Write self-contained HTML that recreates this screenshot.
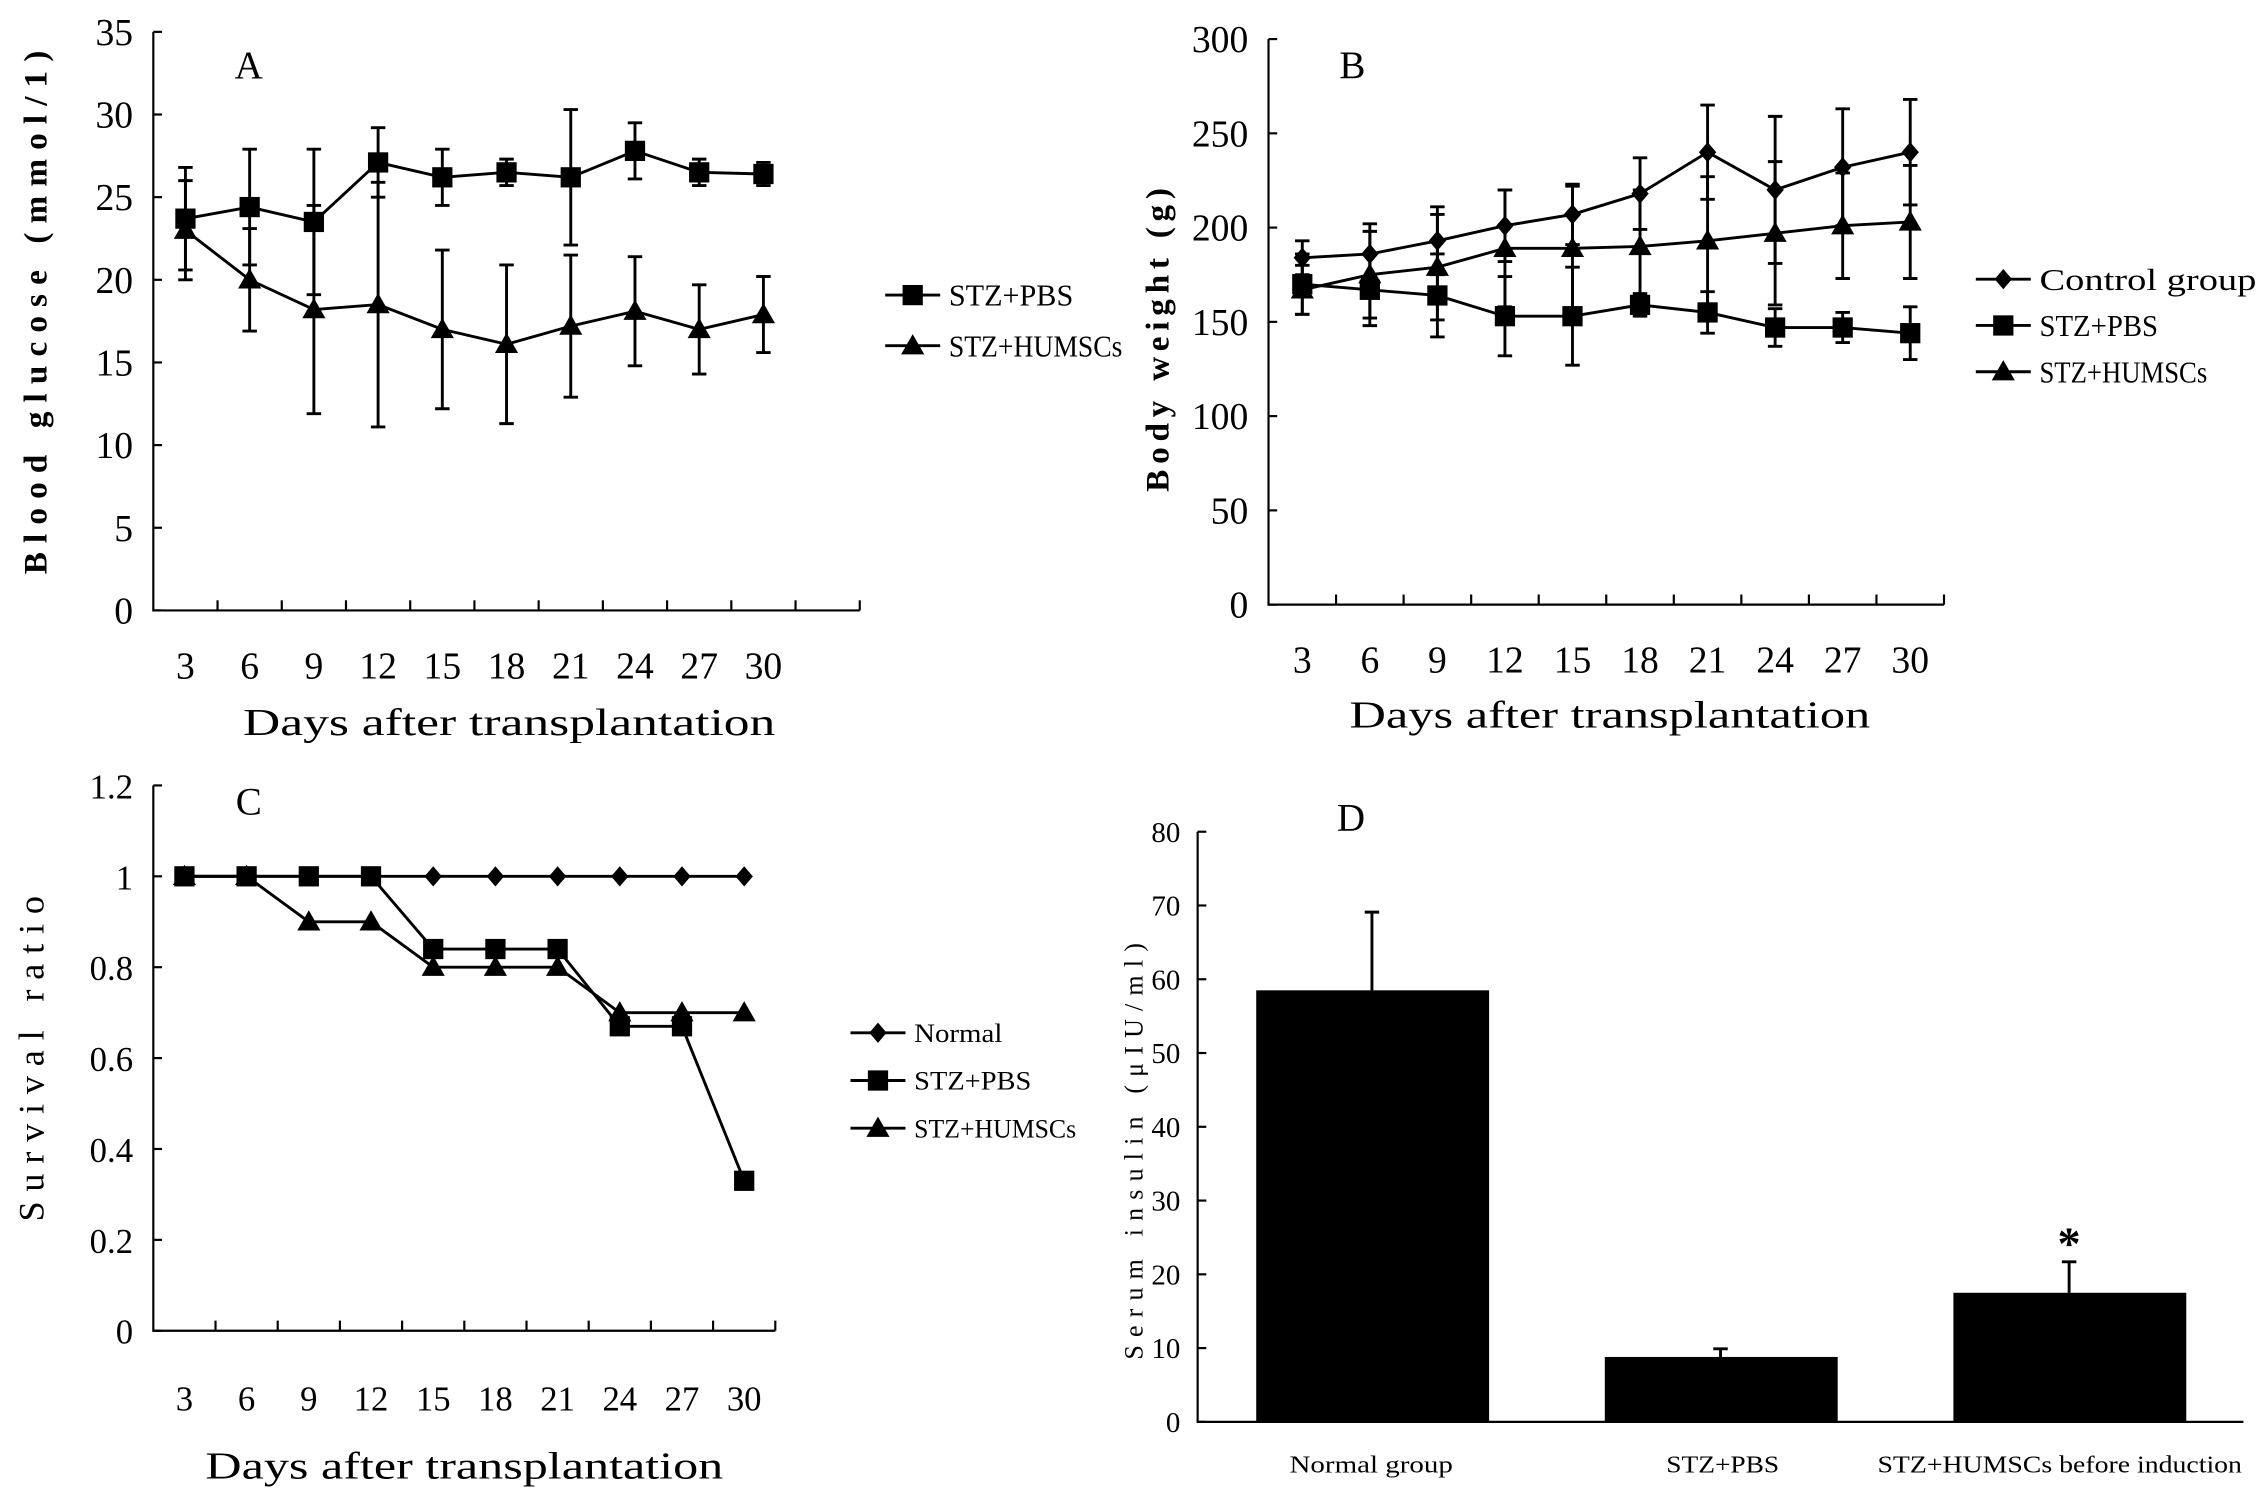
<!DOCTYPE html>
<html><head><meta charset="utf-8"><style>
html,body{margin:0;padding:0;background:#fff;}
svg{display:block;}
text{font-family:"Liberation Sans Narrow","Liberation Serif","Noto Serif CJK SC",serif;fill:#000;}
.ax{stroke:#000;stroke-width:1.5;fill:none;}
.ln{stroke:#000;stroke-width:2;fill:none;}
.eb{stroke:#000;stroke-width:2;fill:none;}
</style></head><body>
<svg id="fig" width="2268" height="1500" viewBox="0 0 1568 1037" xmlns="http://www.w3.org/2000/svg">
<rect width="1568" height="1037" fill="#fff"/>
</svg>
<script>
// ---- Panel A data ----
const daysA = [3,6,9,12,15,18,21,24,27,30];
const aPbs = [23.7,24.4,23.5,27.1,26.2,26.5,26.2,27.8,26.5,26.4];
const aPbsErr = [3.1,3.5,4.4,2.1,1.7,0.8,4.1,1.7,0.8,0.7];
const aHum = [23.0,20.0,18.2,18.5,17.0,16.1,17.2,18.1,17.0,17.9];
const aHumErr = [3.0,3.1,6.3,7.4,4.8,4.8,4.3,3.3,2.7,2.3];
const aTicks = [0,5,10,15,20,25,30,35];
// ---- Panel B data ----
const bCtrl = [184,186,193,201,207,218,240,220,232,240];
const bCtrlErr = [9,16,18,19,16,19,25,39,31,28];
const bPbs = [170,167,164,153,153,159,155,147,147,144];
const bPbsErr = [16,19,22,21,26,6,11,10,8,14];
const bHum = [167,175,179,189,189,190,193,197,201,203];
const bHumErr = [13,23,28,31,33,30,34,38,28,30];
const bTicks = [0,50,100,150,200,250,300];
// ---- Panel C data ----
const cNormal = [1,1,1,1,1,1,1,1,1,1];
const cPbs = [1,1,1,1,0.84,0.84,0.84,0.67,0.67,0.33];
const cHum = [1,1,0.9,0.9,0.8,0.8,0.8,0.7,0.7,0.7];
const cTicks = ["0","0.2","0.4","0.6","0.8","1","1.2"];
// ---- Panel D data ----
const dCats = ["Normal group","STZ+PBS","STZ+HUMSCs  before induction"];
const dVals = [58.5,8.8,17.5];
const dErr = [10.6,1.1,4.2];
const dTicks = [0,10,20,30,40,50,60,70,80];

const NS="http://www.w3.org/2000/svg";
const svg=document.getElementById('fig');
function el(tag,attrs,parent){const e=document.createElementNS(NS,tag);for(const k in attrs)e.setAttribute(k,attrs[k]);(parent||svg).appendChild(e);return e;}
function txt(s,x,y,size,anchor,parent,extra){const t=el('text',Object.assign({x:x,y:y,'font-size':size,'text-anchor':anchor||'middle'},extra||{}),parent);t.textContent=s;return t;}

function marker(g,type,x,y){
  let m;
  if(type==='sq') m=el('rect',{x:x-7,y:y-7,width:14,height:14,fill:'#000'},g);
  else if(type==='tri') m=el('polygon',{points:`${x},${y-8} ${x+8},${y+6} ${x-8},${y+6}`,fill:'#000'},g);
  else m=el('polygon',{points:`${x},${y-7} ${x+6},${y} ${x},${y+7} ${x-6},${y}`,fill:'#000'},g);
  
  
}

function linePanel(o){
  const g=el('g',{});
  
  
  const yS=v=>o.y0-(v-o.ymin)/(o.ymax-o.ymin)*(o.y0-o.yTop);
  const xS=i=>o.x0+o.slot*(i+0.5);
  const axis=el('path',{class:'ax',d:`M${o.x0},${o.yTop}V${o.y0}H${o.x0+o.slot*o.nslots}`},g);
  
  
  for(let i=1;i<=o.nslots;i++){const tk=el('line',{x1:o.x0+o.slot*i,x2:o.x0+o.slot*i,y1:o.y0,y2:o.y0-7,class:'ax'},g);
    }
  o.ticks.forEach(t=>{const v=parseFloat(t);const y=yS(v);
    const tk=el('line',{x1:o.x0,x2:o.x0+6,y1:y,y2:y,class:'ax'},g);
    
    const l=txt(String(t),o.x0-14,y+9,o.tickSize,'end',g);
    });
  daysA.forEach((d,i)=>{const l=txt(String(d),xS(i),o.xLabY,o.tickSize,'middle',g);
    });
  o.series.forEach(s=>{
    const sg=el('g',{},g);
    
    
    if(s.err){s.vals.forEach((v,i)=>{const x=xS(i),a=yS(v+s.err[i]),b=yS(v-s.err[i]);
      const e=el('path',{class:'eb',d:`M${x},${a}V${b}M${x-5},${a}H${x+5}M${x-5},${b}H${x+5}`},sg);
      });}
    const pl=el('polyline',{class:'ln',points:s.vals.map((v,i)=>xS(i)+','+yS(v)).join(' ')},sg);
    
    s.vals.forEach((v,i)=>marker(sg,s.m,xS(i),yS(v)));
  });
  const xt=txt('Days after transplantation',o.xTitleX,o.xTitleY,o.xTitleSize,'middle',g,{textLength:o.xTitleLen,lengthAdjust:'spacingAndGlyphs'});
  
  const yt=txt(o.yTitle,0,0,o.yTitleSize,'middle',g,{transform:`translate(${o.yTitleX},${o.yTitleY}) rotate(-90)`,'font-weight':o.yBold?'bold':'normal',textLength:o.yTitleLen,lengthAdjust:'spacing'});
  
  const pl=txt(o.letter,o.letterX,o.letterY,27,'middle',g,{'font-family':'Liberation Sans, sans-serif'});
  
  o.legend.forEach((L,k)=>{const y=o.legY+k*o.legDy;
    const lg=el('g',{},g);
    el('line',{x1:o.legX,x2:o.legX+38,y1:y,y2:y,class:'ln'},lg);
    marker(lg,L.m,o.legX+19,y);
    const t=txt(L.t,o.legX+44,y+o.legSize*0.35,o.legSize,'start',lg,{textLength:L.w,lengthAdjust:'spacingAndGlyphs'});
    });
}

linePanel({name:'panel-a-blood-glucose',x0:106,yTop:22,y0:422,ymin:0,ymax:35,slot:44.4,nslots:11,ticks:aTicks,tickSize:26,xLabY:469,
  series:[{key:'stz-pbs',vals:aPbs,err:aPbsErr,m:'sq'},{key:'stz-humscs',vals:aHum,err:aHumErr,m:'tri'}],
  xTitleX:352,xTitleY:508,xTitleSize:26,xTitleLen:368,yTitle:'Blood glucose (mmol/1)',yTitleX:32,yTitleY:216,yTitleSize:23,yTitleLen:362,yBold:true,
  letter:'A',letterX:172,letterY:54,legend:[{m:'sq',t:'STZ+PBS',w:86},{m:'tri',t:'STZ+HUMSCs',w:120}],legX:612,legY:204,legDy:35,legSize:21});
linePanel({name:'panel-b-body-weight',x0:877,yTop:27,y0:418,ymin:0,ymax:300,slot:46.7,nslots:10,ticks:bTicks,tickSize:26,xLabY:465,
  series:[{key:'control',vals:bCtrl,err:bCtrlErr,m:'dia'},{key:'stz-pbs',vals:bPbs,err:bPbsErr,m:'sq'},{key:'stz-humscs',vals:bHum,err:bHumErr,m:'tri'}],
  xTitleX:1113,xTitleY:503,xTitleSize:26,xTitleLen:360,yTitle:'Body weight (g)',yTitleX:808,yTitleY:235,yTitleSize:23,yTitleLen:210,yBold:true,
  letter:'B',letterX:935,letterY:54,legend:[{m:'dia',t:'Control group',w:150},{m:'sq',t:'STZ+PBS',w:82},{m:'tri',t:'STZ+HUMSCs',w:116}],legX:1366,legY:193,legDy:32,legSize:21});
linePanel({name:'panel-c-survival',x0:106,yTop:543,y0:920,ymin:0,ymax:1.2,slot:43,nslots:10,ticks:cTicks,tickSize:24,xLabY:975,
  series:[{key:'normal',vals:cNormal,m:'dia'},{key:'stz-pbs',vals:cPbs,m:'sq'},{key:'stz-humscs',vals:cHum,m:'tri'}],
  xTitleX:321,xTitleY:1022,xTitleSize:26,xTitleLen:358,yTitle:'Survival ratio',yTitleX:30,yTitleY:732,yTitleSize:25,yTitleLen:225,yBold:false,
  letter:'C',letterX:172,letterY:563,legend:[{m:'dia',t:'Normal',w:61},{m:'sq',t:'STZ+PBS',w:81},{m:'tri',t:'STZ+HUMSCs',w:112}],legX:588,legY:714,legDy:33,legSize:18});

// Panel D
(function(){
  const g=el('g',{});
  const x0=828,yTop=575,y0=983,ymax=80,slot=241;
  const yS=v=>y0-v/ymax*(y0-yTop);
  const ax=el('path',{class:'ax',d:`M${x0},${yTop}V${y0}H${x0+slot*3}`},g);
  
  const labX=[948,1191,1424], labW=[113,78,252];
  dTicks.forEach(t=>{const y=yS(t);el('line',{x1:x0,x2:x0+6,y1:y,y2:y,class:'ax'},g);
    const l=txt(String(t),x0-12,y+7,20,'end',g);});
  dVals.forEach((v,i)=>{const cx=x0+slot*(i+0.5);
    const b=el('rect',{x:cx-80,y:yS(v),width:161,height:y0-yS(v),fill:'#000'},g);
    
    const e=el('path',{class:'eb',d:`M${cx},${yS(v)}V${yS(v+dErr[i])}M${cx-5},${yS(v+dErr[i])}H${cx+5}`},g);
    
    const l=txt(dCats[i],labX[i],1018,17,'middle',g,{textLength:labW[i],lengthAdjust:'spacingAndGlyphs'});});
  const cx2=x0+slot*2.5;
  const st=txt('*',cx2,yS(dVals[2]+dErr[2])-2,32,'middle',g,{'font-family':'Liberation Sans, sans-serif','font-weight':'bold'});
  
  const yt=txt('Serum insulin (μIU/ml)',0,0,18,'middle',g,{transform:'translate(790,796) rotate(-90)',textLength:288,lengthAdjust:'spacing'});
  
  const pl=txt('D',934,574,27,'middle',g,{'font-family':'Liberation Sans, sans-serif'});
  
})();
</script>
</body></html>
